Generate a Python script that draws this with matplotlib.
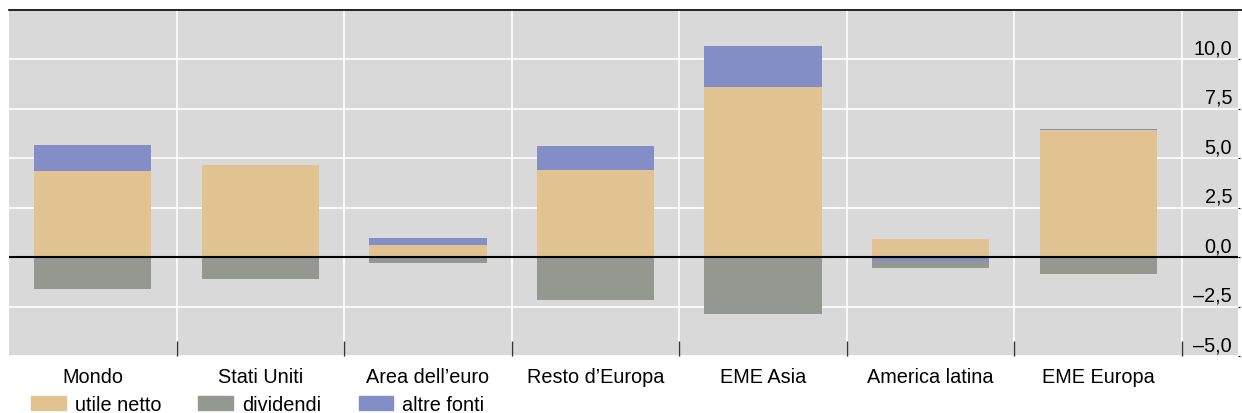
import numpy as np
import matplotlib
matplotlib.use("Agg")
import matplotlib.pyplot as plt
from matplotlib.patches import Patch
from matplotlib.lines import Line2D

plt.rcParams['font.family'] = ['Liberation Sans', 'DejaVu Sans']

# dati (punti percentuali)
regioni = ['Mondo', 'Stati Uniti', 'Area dell\u2019euro', 'Resto d\u2019Europa',
           'EME Asia', 'America latina', 'EME Europa']
utile_netto = [4.37, 4.67, 0.61, 4.42, 8.63, 0.91, 6.41]
dividendi = [-1.62, -1.10, -0.29, -2.15, -2.88, -0.37, -0.86]
altre_fonti = [1.32, -0.03, 0.35, 1.22, 2.03, -0.19, 0.09]

y_ticks = [-5.0, -2.5, 0.0, 2.5, 5.0, 7.5, 10.0]

c_utile = '#e1c392'
c_div = '#939990'
c_altre = '#838ec6'
fs = 14.3

fig = plt.figure(figsize=(12.42, 4.14), dpi=100)
ax = fig.add_axes([9 / 1242, 1 - 357 / 414, 1229 / 1242, 346 / 414])
ax.set_facecolor('#d9d9d9')

x = np.arange(len(regioni))
w = 0.7
utile = np.array(utile_netto)
div = np.array(dividendi)
altre = np.array(altre_fonti)

# altre fonti sopra l'utile se positive, subito sotto lo zero se negative
altre_bottom = np.where(altre >= 0, utile, 0)
div_bottom = np.where(altre < 0, altre, 0)

ax.bar(x, utile, w, color=c_utile, zorder=2)
ax.bar(x, div, w, bottom=div_bottom, color=c_div, zorder=2)
ax.bar(x, altre, w, bottom=altre_bottom, color=c_altre, zorder=2)

ax.set_xlim(-0.5, 6.834)
ax.set_ylim(-5, 12.5)

# griglia
for yv in y_ticks:
    ax.axhline(yv, color='white', lw=1.2, zorder=1)
for xv in np.arange(0.5, 7, 1):
    ax.axvline(xv, color='white', lw=1.2, zorder=1)
ax.axhline(0, color='black', lw=1.5, zorder=3)

for s in ['left', 'right', 'bottom', 'top']:
    ax.spines[s].set_visible(False)
# linea nera in alto, fino al bordo destro
fig.add_artist(Line2D([9 / 1242, 1], [1 - 11 / 414, 1 - 11 / 414],
                      color='black', lw=1.2, transform=fig.transFigure))

# tick x: segni ai confini, etichette al centro
ax.set_xticks(np.arange(0.5, 7, 1))
ax.set_xticklabels([])
ax.tick_params(axis='x', which='major', direction='in', length=11,
               width=1, color='#333333')
ax.set_xticks(x, minor=True)
ax.set_xticklabels(regioni, minor=True, fontsize=fs)
ax.tick_params(axis='x', which='minor', length=0, pad=8)

# tick y a destra, etichette dentro il grafico
ax.yaxis.tick_right()
ax.set_yticks(y_ticks)
ax.set_yticklabels([])
ax.tick_params(axis='y', direction='out', length=1.5, width=0.8, color='black')
for yv in y_ticks:
    lab = f'{yv:.1f}'.replace('.', ',').replace('-', '\u2013')
    ax.annotate(lab, xy=(1, yv), xycoords=('axes fraction', 'data'),
                xytext=(-6, 6), textcoords='offset pixels',
                ha='right', va='baseline', fontsize=fs)

handles = [Patch(color=c_utile, label='utile netto'),
           Patch(color=c_div, label='dividendi'),
           Patch(color=c_altre, label='altre fonti')]
fig.legend(handles=handles, loc='lower left', bbox_to_anchor=(19 / 1242, -0.03),
           ncol=3, frameon=False, fontsize=fs, handlelength=1.75,
           handleheight=0.7, handletextpad=0.45, columnspacing=1.88,
           borderaxespad=0.2)

fig.savefig('out.png', dpi=100)
